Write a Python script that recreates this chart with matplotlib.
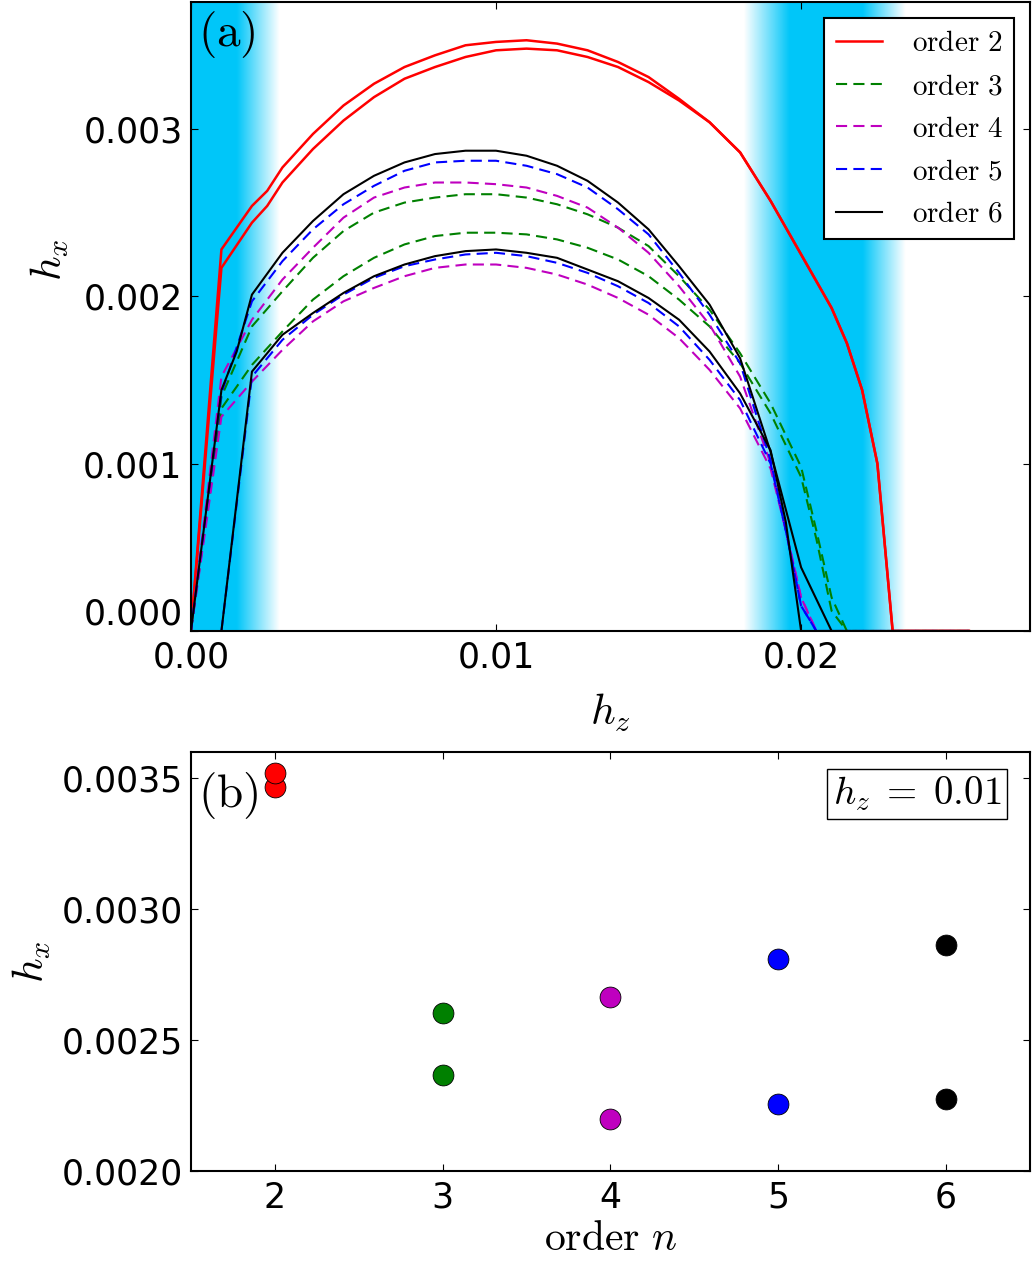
#!/bin/env python3
import numpy as np
from matplotlib import pyplot as plt
from matplotlib.ticker import FormatStrFormatter

# ---- panel (a): phase boundary h_x(h_z), two branches per order ----
# order 2
hz2 = [0, .001, .002, .0025, .003, .004, .005, .006, .007, .008, .009, .010, .011, .012,
       .013, .014, .015, .016, .017, .018, .019, .020, .021, .0215, .022, .0225, .023, .0255]
hx2_up = [0, .00228, .00254, .00263, .00277, .00297, .00314, .00327, .00337, .00344, .00350, .00352,
          .00353, .00351, .00347, .00340, .00331, .00318, .00304, .00286, .00257, .00225, .00193,
          .00172, .00144, .00100, 0, 0]
hx2_lo = [0, .00217, .00244, .00254, .00268, .00288, .00305, .00319, .00330, .00337, .00343, .00347,
          .00348, .00347, .00343, .00337, .00328, .00317, .00304, .00286, .00257, .00225, .00193,
          .00172, .00144, .00100, 0, 0]

# order 3
hz3 = [0, .001, .002, .003, .004, .005, .006, .007, .008, .009, .010, .011, .012, .013,
       .014, .015, .016, .017, .018, .019, .020, .0205, .021, .0215, .0255]
hx3_up = [0, .00140, .00182, .00203, .00223, .00239, .00250, .00256, .00259, .00261, .00261, .00259,
          .00255, .00249, .00241, .00230, .00212, .00192, .00166, .00136, .00098, .00060, .00020, 0, 0]
hx3_lo = [0, .00133, .00159, .00179, .00198, .00212, .00223, .00231, .00236, .00238, .00238, .00237,
          .00234, .00229, .00222, .00212, .00198, .00182, .00160, .00130, .00092, .00055, .00012, 0, 0]

# order 4
hz4 = [0, .001, .002, .003, .004, .005, .006, .007, .008, .009, .010, .011, .012, .013,
       .014, .015, .016, .017, .018, .019, .0195, .020, .0205, .0255]
hx4_up = [0, .00152, .00186, .00210, .00229, .00247, .00259, .00265, .00268, .00268, .00267, .00265,
          .00260, .00253, .00241, .00226, .00206, .00183, .00152, .00100, .00060, .00020, 0, 0]
hx4_lo = [0, .00128, .00149, .00168, .00185, .00197, .00205, .00212, .00217, .00219, .00219, .00217,
          .00213, .00207, .00199, .00189, .00175, .00156, .00133, .00097, .00060, .00020, 0, 0]

# order 5
hz5_up = [0, .001, .002, .003, .004, .005, .006, .007, .008, .009, .010, .011, .012, .013,
          .014, .015, .016, .017, .018, .019, .0195, .020, .0205, .0255]
hx5_up = [0, .00142, .00197, .00221, .00240, .00255, .00266, .00275, .00280, .00281, .00281, .00278,
          .00273, .00265, .00252, .00237, .00214, .00189, .00160, .00102, .00060, .00015, 0, 0]
hz5_lo = [.001, .002, .003, .004, .005, .006, .007, .008, .009, .010, .011, .012, .013,
          .014, .015, .016, .017, .018, .019, .0195, .020, .0205, .0255]
hx5_lo = [0, .00152, .00174, .00189, .00201, .00211, .00218, .00222, .00225, .00226, .00224,
          .00220, .00214, .00206, .00196, .00182, .00162, .00138, .00100, .00060, .00015, 0, 0]

# order 6
hz6_up = [0, .001, .0015, .002, .003, .004, .005, .006, .007, .008, .009, .010, .011, .012,
          .013, .014, .015, .016, .017, .018, .019, .020, .021, .0255]
hx6_up = [0, .00144, .00167, .00201, .00226, .00245, .00261, .00272, .00280, .00285, .00287, .00287,
          .00284, .00278, .00269, .00256, .00240, .00218, .00195, .00163, .00107, .00038, 0, 0]
hz6_lo = [.001, .002, .003, .004, .005, .006, .007, .008, .009, .010, .011, .012, .013,
          .014, .015, .016, .017, .018, .019, .0195, .020, .0255]
hx6_lo = [0, .00155, .00177, .00190, .00202, .00212, .00219, .00224, .00227, .00228, .00226,
          .00223, .00216, .00209, .00199, .00186, .00167, .00142, .00108, .00065, 0, 0]

# ---- panel (b): both branches at h_z = 0.01 ----
orders = [2, 3, 4, 5, 6]
hx_b_up = [.003521, .002603, .002666, .002808, .002864]
hx_b_lo = [.003466, .002368, .002197, .002254, .002275]
order_colors = ['r', 'g', 'm', 'b', 'k']


def band_image(xmax, color):
    # shaded (blue) regions, fading out to white
    x = np.linspace(0., xmax, 2000)
    a_left = np.interp(x, [0., 0.0015, 0.0029], [1., 1., 0.])
    a_right = np.interp(x, [0.0181, 0.0196, 0.0220, 0.0234], [0., 1., 1., 0.], left=0., right=0.)
    img = np.zeros((1, len(x), 4))
    img[..., 0:3] = color
    img[..., 3] = np.maximum(a_left, a_right)
    return img


def main():
    plt.rcParams['font.size'] = 25
    plt.rcParams['mathtext.fontset'] = 'cm'
    plt.rcParams['axes.linewidth'] = 1.5
    plt.rcParams['lines.scale_dashes'] = False
    plt.rcParams['xtick.direction'] = 'in'
    plt.rcParams['ytick.direction'] = 'in'
    plt.rcParams['xtick.top'] = True
    plt.rcParams['ytick.right'] = True
    plt.rcParams['xtick.major.size'] = 5
    plt.rcParams['ytick.major.size'] = 5
    plt.rcParams['xtick.major.pad'] = 7
    plt.rcParams['ytick.major.pad'] = 6

    fig = plt.figure(figsize=(10.32, 12.61), dpi=100)
    ax = fig.add_axes([0.185, 0.4996, 0.813, 0.499])
    ax2 = fig.add_axes([0.185, 0.0714, 0.813, 0.3323])

    xmax, ymax = 0.0275, 0.00376
    ax.imshow(band_image(xmax, (0., 0.78, 0.98)), extent=[0, xmax, 0, ymax],
              aspect='auto', interpolation='bilinear', zorder=0)

    dash = (8, 4.5)
    ax.plot(hz2, hx2_up, color='r', lw=1.8, label=r'$\mathrm{order\ 2}$')
    ax.plot(hz2, hx2_lo, color='r', lw=1.8)
    ax.plot(hz3, hx3_up, color='g', lw=1.5, ls='--', dashes=dash, label=r'$\mathrm{order\ 3}$')
    ax.plot(hz3, hx3_lo, color='g', lw=1.5, ls='--', dashes=dash)
    ax.plot(hz4, hx4_up, color='m', lw=1.5, ls='--', dashes=dash, label=r'$\mathrm{order\ 4}$')
    ax.plot(hz4, hx4_lo, color='m', lw=1.5, ls='--', dashes=dash)
    ax.plot(hz5_up, hx5_up, color='b', lw=1.5, ls='--', dashes=dash, label=r'$\mathrm{order\ 5}$')
    ax.plot(hz5_lo, hx5_lo, color='b', lw=1.5, ls='--', dashes=dash)
    ax.plot(hz6_up, hx6_up, color='k', lw=1.5, label=r'$\mathrm{order\ 6}$')
    ax.plot(hz6_lo, hx6_lo, color='k', lw=1.5)

    ax.set_xlim(0, xmax)
    ax.set_ylim(0, ymax)
    ax.set_xticks([0, 0.01, 0.02])
    ax.set_yticks([0, 0.001, 0.002, 0.003])
    ax.xaxis.set_major_formatter(FormatStrFormatter('%.2f'))
    ax.yaxis.set_major_formatter(FormatStrFormatter('%.3f'))
    # lift the 0.000 label off the corner, as in the original
    ax.yaxis.get_majorticklabels()[0].set_verticalalignment('bottom')
    ax.set_xlabel(r'$h_z$', fontsize=31, labelpad=12)
    ax.set_ylabel(r'$h_x$', fontsize=31)
    ax.yaxis.set_label_coords(-0.143, 0.59)
    ax.text(0.008, 0.988, r'$\mathrm{(a)}$', transform=ax.transAxes, ha='left', va='top', fontsize=34)

    leg = ax.legend(loc='upper right', fontsize=21, handlelength=1.6, handletextpad=1.0,
                    borderaxespad=0.55, labelspacing=0.5, borderpad=0.4, fancybox=False,
                    framealpha=1, edgecolor='k')
    leg.get_frame().set_linewidth(1.5)

    # panel (b)
    for n, lo, up, c in zip(orders, hx_b_lo, hx_b_up, order_colors):
        ax2.plot(n, lo, 'o', color=c, markersize=15, markeredgecolor='k', markeredgewidth=0.6)
        ax2.plot(n, up, 'o', color=c, markersize=15, markeredgecolor='k', markeredgewidth=0.6)
    ax2.set_xlim(1.5, 6.5)
    ax2.set_ylim(0.002, 0.0036)
    ax2.set_xticks(orders)
    ax2.set_yticks([0.0020, 0.0025, 0.0030, 0.0035])
    ax2.yaxis.set_major_formatter(FormatStrFormatter('%.4f'))
    ax2.set_xlabel(r'$\mathrm{order}\ n$', fontsize=30, labelpad=2)
    ax2.set_ylabel(r'$h_x$', fontsize=31, labelpad=6)
    ax2.text(0.008, 0.958, r'$\mathrm{(b)}$', transform=ax2.transAxes, ha='left', va='top', fontsize=34)
    ax2.text(0.966, 0.946, r'$h_z\;=\;0.01$', transform=ax2.transAxes, ha='right', va='top', fontsize=28,
             bbox=dict(boxstyle='square,pad=0.15', fc='w', ec='k', lw=1))

    fig.savefig('out.png', dpi=100)


if __name__ == '__main__':
    main()
